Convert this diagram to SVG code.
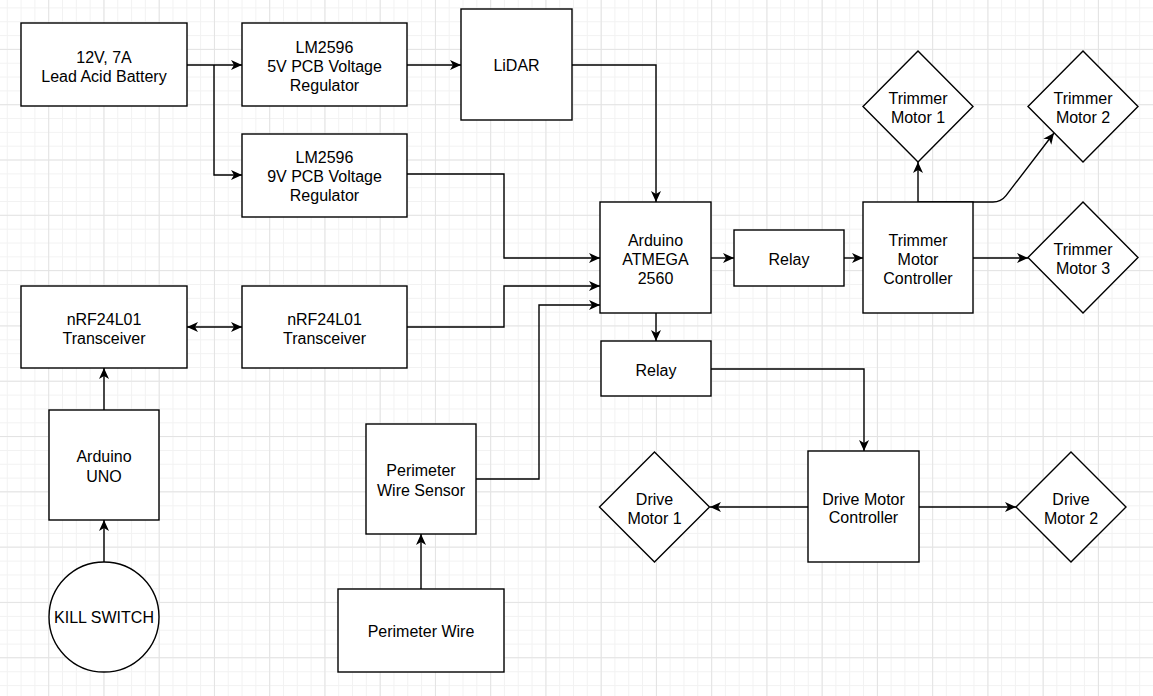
<svg xmlns="http://www.w3.org/2000/svg" width="1153" height="696" viewBox="0 0 1153 696">
<style>
.box{fill:#fff;stroke:#000;stroke-width:1.4}
.lbl{font-family:"Liberation Sans",Arial,Helvetica,sans-serif;font-size:16px;fill:#000;text-anchor:middle}
.edge{fill:none;stroke:#000;stroke-width:1.4}
</style>
<defs>
<pattern id="minor" x="48.2" y="48.9" width="13.81" height="13.83" patternUnits="userSpaceOnUse">
<path d="M0.5 0 V13.83 M0 0.5 H13.81" stroke="#f2f2f2" stroke-width="1" fill="none"/>
</pattern>
<pattern id="major" x="48.2" y="48.9" width="55.25" height="55.3" patternUnits="userSpaceOnUse">
<path d="M0.5 0 V55.3 M0 0.5 H55.25" stroke="#e3e3e3" stroke-width="1" fill="none"/>
</pattern>
<marker id="arr" markerUnits="userSpaceOnUse" markerWidth="12" markerHeight="11" refX="11" refY="5" orient="auto-start-reverse" viewBox="0 0 12 10">
<path d="M0 0 L11 5 L0 10 L3 5 Z" fill="#000"/>
</marker>
</defs>
<rect width="1153" height="696" fill="#fff"/>
<rect width="1153" height="696" fill="url(#minor)"/>
<rect width="1153" height="696" fill="url(#major)"/>

<g id="connectors">
<path class="edge" d="M187 65 H242" marker-end="url(#arr)"/>
<path class="edge" d="M214 65 V175 H242" marker-end="url(#arr)"/>
<path class="edge" d="M407 65 H461" marker-end="url(#arr)"/>
<path class="edge" d="M572 65 H656 V202" marker-end="url(#arr)"/>
<path class="edge" d="M407 174 H504 V258 H600" marker-end="url(#arr)"/>
<path class="edge" d="M407 327 H504 V286 H600" marker-end="url(#arr)"/>
<path class="edge" d="M476 479 H539 V305 H600" marker-end="url(#arr)"/>
<path class="edge" d="M187 327 H242" marker-start="url(#arr)" marker-end="url(#arr)"/>
<path class="edge" d="M104 410 V368" marker-end="url(#arr)"/>
<path class="edge" d="M104 562 V520" marker-end="url(#arr)"/>
<path class="edge" d="M421 589 V534" marker-end="url(#arr)"/>
<path class="edge" d="M711 258 H734" marker-end="url(#arr)"/>
<path class="edge" d="M844 258 H863" marker-end="url(#arr)"/>
<path class="edge" d="M656 313 V341" marker-end="url(#arr)"/>
<path class="edge" d="M711 369 H864 V451" marker-end="url(#arr)"/>
<path class="edge" d="M918 202 V162" marker-end="url(#arr)"/>
<path class="edge" d="M918 202 H993 Q1001 202 1006 195.6 L1054 133" marker-end="url(#arr)"/>
<path class="edge" d="M973 258 H1028" marker-end="url(#arr)"/>
<path class="edge" d="M808 507 H710" marker-end="url(#arr)"/>
<path class="edge" d="M919 507 H1016" marker-end="url(#arr)"/>
</g>

<g id="battery"><rect class="box" x="21" y="23" width="166" height="83"/>
<text class="lbl" x="104" y="63">12V, 7A</text><text class="lbl" x="104" y="82.4">Lead Acid Battery</text></g>

<g id="reg5v"><rect class="box" x="242" y="23" width="165" height="83"/>
<text class="lbl" x="324.5" y="52.5">LM2596</text><text class="lbl" x="324.5" y="71.5">5V PCB Voltage</text><text class="lbl" x="324.5" y="90.5">Regulator</text></g>

<g id="reg9v"><rect class="box" x="242" y="134" width="165" height="83"/>
<text class="lbl" x="324.5" y="163">LM2596</text><text class="lbl" x="324.5" y="182">9V PCB Voltage</text><text class="lbl" x="324.5" y="201">Regulator</text></g>

<g id="lidar"><rect class="box" x="461" y="9" width="111" height="111"/>
<text class="lbl" x="516.5" y="70.7">LiDAR</text></g>

<g id="arduino-mega"><rect class="box" x="600" y="202" width="111" height="111"/>
<text class="lbl" x="655.5" y="245.7">Arduino</text><text class="lbl" x="655.5" y="264.7">ATMEGA</text><text class="lbl" x="655.5" y="283.7">2560</text></g>

<g id="relay-trimmer"><rect class="box" x="734" y="230" width="110" height="56"/>
<text class="lbl" x="789" y="264.7">Relay</text></g>

<g id="trimmer-controller"><rect class="box" x="863" y="202" width="110" height="111"/>
<text class="lbl" x="918" y="245.7">Trimmer</text><text class="lbl" x="918" y="264.7">Motor</text><text class="lbl" x="918" y="283.7">Controller</text></g>

<g id="trimmer-motor-1"><polygon class="box" points="918,51 973,106.5 918,162 863,106.5"/>
<text class="lbl" x="918" y="103.7">Trimmer</text><text class="lbl" x="918" y="122.7">Motor 1</text></g>

<g id="trimmer-motor-2"><polygon class="box" points="1083,51 1138,106.5 1083,162 1028,106.5"/>
<text class="lbl" x="1083" y="103.7">Trimmer</text><text class="lbl" x="1083" y="122.7">Motor 2</text></g>

<g id="trimmer-motor-3"><polygon class="box" points="1083,202 1138,257.5 1083,313 1028,257.5"/>
<text class="lbl" x="1083" y="254.7">Trimmer</text><text class="lbl" x="1083" y="273.7">Motor 3</text></g>

<g id="nrf-left"><rect class="box" x="21" y="286" width="166" height="82"/>
<text class="lbl" x="104" y="324.7">nRF24L01</text><text class="lbl" x="104" y="344">Transceiver</text></g>

<g id="nrf-right"><rect class="box" x="242" y="286" width="165" height="82"/>
<text class="lbl" x="324.5" y="324.7">nRF24L01</text><text class="lbl" x="324.5" y="344">Transceiver</text></g>

<g id="arduino-uno"><rect class="box" x="49" y="410" width="110" height="110"/>
<text class="lbl" x="104" y="462.4">Arduino</text><text class="lbl" x="104" y="481.7">UNO</text></g>

<g id="kill-switch"><circle class="box" cx="104" cy="617" r="55"/>
<text class="lbl" x="104" y="623.4">KILL SWITCH</text></g>

<g id="perimeter-sensor"><rect class="box" x="366" y="424" width="110" height="110"/>
<text class="lbl" x="421" y="476.4">Perimeter</text><text class="lbl" x="421" y="495.7">Wire Sensor</text></g>

<g id="perimeter-wire"><rect class="box" x="338" y="589" width="166" height="83"/>
<text class="lbl" x="421" y="637.4">Perimeter Wire</text></g>

<g id="relay-drive"><rect class="box" x="601" y="341" width="110" height="55"/>
<text class="lbl" x="656" y="375.7">Relay</text></g>

<g id="drive-controller"><rect class="box" x="808" y="451" width="111" height="111"/>
<text class="lbl" x="863.5" y="504.7">Drive Motor</text><text class="lbl" x="863.5" y="523">Controller</text></g>

<g id="drive-motor-1"><polygon class="box" points="654.5,452 709.5,507 654.5,562 599.5,507"/>
<text class="lbl" x="654.5" y="504.7">Drive</text><text class="lbl" x="654.5" y="523.7">Motor 1</text></g>

<g id="drive-motor-2"><polygon class="box" points="1071,452 1126,507 1071,562 1016,507"/>
<text class="lbl" x="1071" y="504.7">Drive</text><text class="lbl" x="1071" y="523.7">Motor 2</text></g>
</svg>
